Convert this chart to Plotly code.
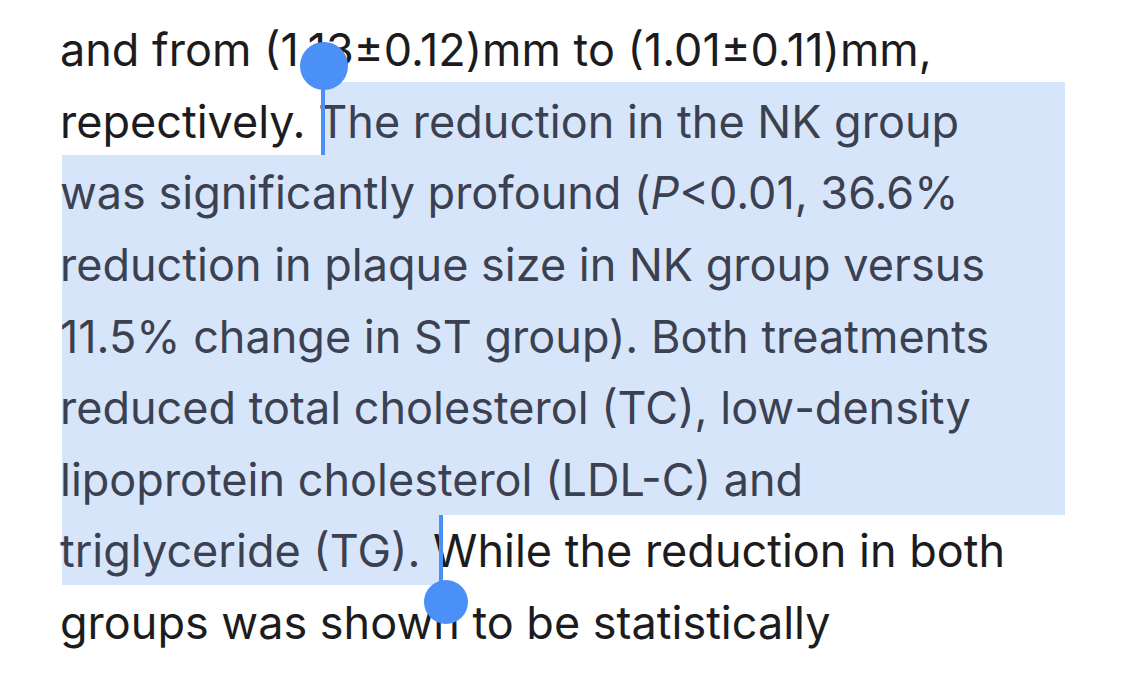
import plotly.graph_objects as go

lines = [
    "and from (1.13±0.12)mm to (1.01±0.11)mm,",
    "repectively. |The reduction in the NK group",
    "was significantly profound (<i>P</i><0.01, 36.6%",
    "reduction in plaque size in NK group versus",
    "11.5% change in ST group). Both treatments",
    "reduced total cholesterol (TC), low-density",
    "lipoprotein cholesterol (LDL-C) and",
    "triglyceride (TG).| While the reduction in both",
    "groups was shown to be statistically",
]
line_y = [55, 127, 198, 270, 342, 413, 485, 556, 628]
selected = [False, "tail", True, True, True, True, True, "head", False]

SEL = "#3b4150"
NORM = "#1c1c1e"
HL = "#d7e5fb"
BLUE = "#4a90f7"

fig = go.Figure()
xs, ys, ts = [], [], []
for t, y, s in zip(lines, line_y, selected):
    if s == "tail":
        a, b = t.split("|")
        txt = f"<span style='color:{NORM}'>{a}</span><span style='color:{SEL}'>{b}</span>"
    elif s == "head":
        a, b = t.split("|")
        txt = f"<span style='color:{SEL}'>{a}</span><span style='color:{NORM}'>{b}</span>"
    elif s:
        txt = f"<span style='color:{SEL}'>{t}</span>"
    else:
        txt = f"<span style='color:{NORM}'>{t}</span>"
    xs.append(60); ys.append(y); ts.append(txt)
fig.add_trace(go.Scatter(x=xs, y=ys, text=ts, mode="text", textposition="middle right",
                         textfont=dict(family="Inter, Noto Sans", size=45, color=NORM),
                         hoverinfo="skip", showlegend=False))

shapes = [
    dict(type="rect", x0=325, x1=1065, y0=82, y1=155, fillcolor=HL, line_width=0, layer="below"),
    dict(type="rect", x0=62, x1=1065, y0=155, y1=515, fillcolor=HL, line_width=0, layer="below"),
    dict(type="rect", x0=62, x1=440, y0=515, y1=585, fillcolor=HL, line_width=0, layer="below"),
    dict(type="line", x0=323, x1=323, y0=65, y1=155, line=dict(color=BLUE, width=4), layer="above"),
    dict(type="circle", x0=300, x1=348, y0=42, y1=90, fillcolor=BLUE, line_width=0, layer="above"),
    dict(type="line", x0=441, x1=441, y0=515, y1=590, line=dict(color=BLUE, width=4), layer="above"),
    dict(type="circle", x0=424, x1=468, y0=580, y1=624, fillcolor=BLUE, line_width=0, layer="above"),
]
fig.update_layout(
    width=1125, height=675, margin=dict(l=0, r=0, t=0, b=0),
    paper_bgcolor="white", plot_bgcolor="white", shapes=shapes,
    xaxis=dict(range=[8, 1133], visible=False, fixedrange=True),
    yaxis=dict(range=[683, 8], visible=False, fixedrange=True),
)
fig.write_html("out.html")
